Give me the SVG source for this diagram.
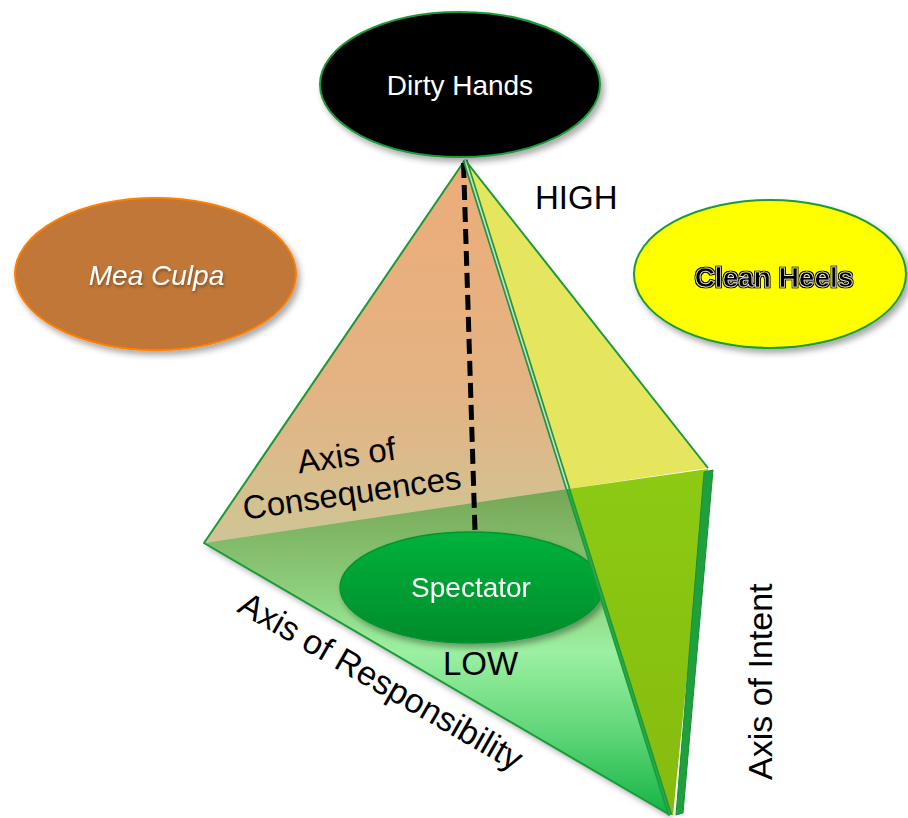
<svg xmlns="http://www.w3.org/2000/svg" width="908" height="818" viewBox="0 0 908 818">
<defs>
<style>
text{font-family:"Liberation Sans",Arial,sans-serif;}
.lbl{font-size:33px;fill:#000;}
.ax{font-size:34px;}
.node{font-size:28px;text-anchor:middle;}
.edge{fill:none;stroke:#1a9a3a;stroke-width:2;stroke-linejoin:round;}
</style>
<linearGradient id="gOrange" gradientUnits="userSpaceOnUse" x1="0" y1="160" x2="0" y2="545">
<stop offset="0" stop-color="#ecac79"/><stop offset="0.6" stop-color="#e4b383"/><stop offset="1" stop-color="#cfc595"/>
</linearGradient>
<linearGradient id="gFront" gradientUnits="userSpaceOnUse" x1="0" y1="489" x2="0" y2="815">
<stop offset="0" stop-color="#76a655"/><stop offset="0.3" stop-color="#8ccd7a"/><stop offset="0.5" stop-color="#9cf0a2"/><stop offset="0.75" stop-color="#5fd677"/><stop offset="1" stop-color="#12b446"/>
</linearGradient>
<linearGradient id="gYG" gradientUnits="userSpaceOnUse" x1="0" y1="470" x2="0" y2="815">
<stop offset="0" stop-color="#8cca14"/><stop offset="1" stop-color="#86bb0e"/>
</linearGradient>
<linearGradient id="gSpec" x1="0" y1="0" x2="0" y2="1">
<stop offset="0" stop-color="#00b23c"/><stop offset="1" stop-color="#008c2a"/>
</linearGradient>
<filter id="sh" x="-20%" y="-20%" width="140%" height="150%">
<feDropShadow dx="3" dy="4" stdDeviation="3" flood-color="#000" flood-opacity="0.35"/>
</filter>
<filter id="tsh" x="-10%" y="-30%" width="120%" height="160%">
<feDropShadow dx="1" dy="2" stdDeviation="1.5" flood-color="#000" flood-opacity="0.35"/>
</filter>
<filter id="outline" x="-5%" y="-20%" width="110%" height="140%">
<feMorphology in="SourceAlpha" operator="dilate" radius="1.1" result="d"/>
<feFlood flood-color="#000"/>
<feComposite in2="d" operator="in" result="o"/>
<feMerge><feMergeNode in="o"/><feMergeNode in="SourceGraphic"/></feMerge>
</filter>
</defs>

<rect width="908" height="818" fill="#fff"/>

<!-- pyramid, left/front faces -->
<g id="pyramid-front" filter="url(#sh)">
<polygon points="465,160 204,543 568,489" fill="url(#gOrange)"/>
<polygon points="204,543 568,489 670,815" fill="url(#gFront)"/>
</g>
<polyline class="edge" points="465,160 204,543 670,815"/>

<!-- connectors -->
<g id="connectors">
<line x1="463.5" y1="163" x2="475" y2="531" stroke="#000" stroke-width="5" stroke-dasharray="15 7"/>
</g>

<!-- Spectator -->
<g id="spectator" filter="url(#sh)">
<ellipse cx="471.5" cy="587.5" rx="131.5" ry="55.5" fill="url(#gSpec)" stroke="#00952f" stroke-width="1.5"/>
<text class="node" x="471" y="597" fill="#fff">Spectator</text>
</g>

<!-- pyramid, right faces -->
<g id="pyramid-right">
<polygon points="465,160 708,468 568,489" fill="#e6e65e"/>
<polygon points="568,489 708,469 673,815 670,815" fill="url(#gYG)"/>
<polygon points="704,472 713,470 683,813 676,815" fill="#1fa03c" stroke="#179032" stroke-width="1"/>
<polyline class="edge" points="465,160 708,468"/>
<line x1="465" y1="160" x2="568" y2="489" stroke="#1a9a3a" stroke-width="5"/>
<line x1="465" y1="160" x2="568" y2="489" stroke="#d4d8d4" stroke-width="1.6"/>
<line x1="568" y1="489" x2="670" y2="815" stroke="#1a9a3a" stroke-width="4.5"/>
<line x1="568" y1="489" x2="670" y2="815" stroke="#27ac46" stroke-width="1.5"/>
</g>

<!-- labels -->
<text class="lbl" x="535" y="209">HIGH</text>
<text class="lbl" x="443" y="675">LOW</text>
<g transform="translate(353.5,504) rotate(-8.2)">
<text class="lbl" text-anchor="middle" x="0" y="-38">Axis of</text>
<text class="lbl" text-anchor="middle" x="0" y="0">Consequences</text>
</g>
<text class="lbl ax" transform="translate(236,611) rotate(30)">Axis of Responsibility</text>
<text class="lbl ax" transform="translate(772,780) rotate(-90)">Axis of Intent</text>

<!-- Mea Culpa -->
<g id="mea-culpa">
<ellipse cx="155.5" cy="274" rx="140.5" ry="76" fill="#c07737" stroke="#ff7f00" stroke-width="2" filter="url(#sh)"/>
<text class="node" x="156.5" y="285" fill="#fff" font-style="italic" filter="url(#tsh)">Mea Culpa</text>
</g>

<!-- Clean Heels -->
<g id="clean-heels">
<ellipse cx="770" cy="274" rx="136" ry="74" fill="#ffff00" stroke="#1a9a3a" stroke-width="2" filter="url(#sh)"/>
<text class="node" x="774" y="287" fill="#000" font-weight="bold" font-size="27px" stroke="#fff" stroke-width="0.6" filter="url(#outline)">Clean Heels</text>
</g>

<!-- Dirty Hands -->
<g id="dirty-hands">
<ellipse cx="460" cy="84.5" rx="140" ry="72.5" fill="#000" stroke="#1a9a3a" stroke-width="2" filter="url(#sh)"/>
<text class="node" x="460" y="95" fill="#fff">Dirty Hands</text>
</g>
</svg>
